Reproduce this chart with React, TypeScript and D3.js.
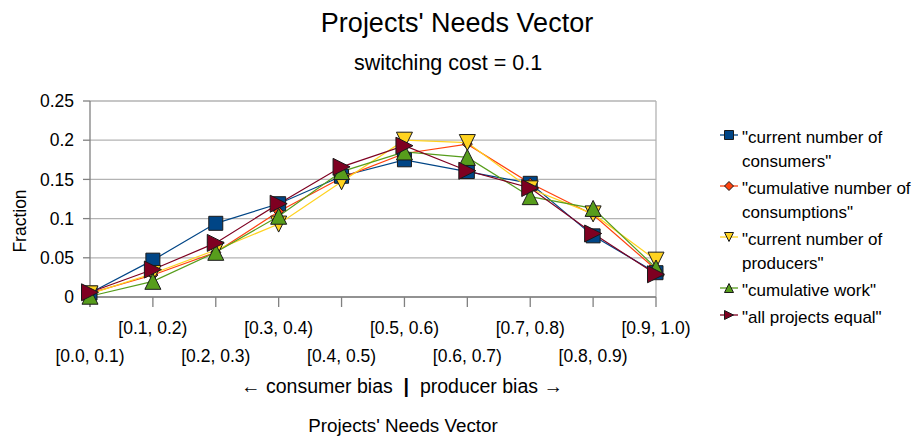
import React from 'react';
import * as d3 from 'd3';

// Bins of the projects' needs vector
const categories = [
  '[0.0, 0.1)', '[0.1, 0.2)', '[0.2, 0.3)', '[0.3, 0.4)', '[0.4, 0.5)',
  '[0.5, 0.6)', '[0.6, 0.7)', '[0.7, 0.8)', '[0.8, 0.9)', '[0.9, 1.0)',
];

// Fraction of projects per bin for each weighting scheme
const currentConsumers = [0.005, 0.047, 0.094, 0.119, 0.154, 0.175, 0.160, 0.145, 0.078, 0.031];
const cumulativeConsumptions = [0.005, 0.028, 0.057, 0.109, 0.152, 0.183, 0.195, 0.145, 0.105, 0.035];
const currentProducers = [0.004, 0.030, 0.060, 0.093, 0.147, 0.200, 0.197, 0.138, 0.106, 0.047];
const cumulativeWork = [0.001, 0.020, 0.057, 0.103, 0.160, 0.185, 0.178, 0.128, 0.113, 0.037];
const allProjectsEqual = [0.006, 0.035, 0.069, 0.119, 0.166, 0.193, 0.161, 0.139, 0.081, 0.029];

const seriesLabels = [
  ['"current number of', 'consumers"'],
  ['"cumulative number of', 'consumptions"'],
  ['"current number of', 'producers"'],
  ['"cumulative work"'],
  ['"all projects equal"'],
];
const seriesValues = [currentConsumers, cumulativeConsumptions, currentProducers, cumulativeWork, allProjectsEqual];
const seriesColors = ['#004586', '#ff420e', '#ffd320', '#579d1c', '#7e0021'];
const seriesShapes = ['square', 'diamond', 'down', 'up', 'right'];

const yTicks = [0, 0.05, 0.1, 0.15, 0.2, 0.25];

const FONT = '"Liberation Sans", Arial, sans-serif';

function markerPath(shape: string, s: number): string {
  const h = s / 2;
  switch (shape) {
    case 'square':
      return `M${-h},${-h}H${h}V${h}H${-h}Z`;
    case 'diamond':
      return `M0,${-h}L${h},0L0,${h}L${-h},0Z`;
    case 'up':
      return `M0,${-h}L${h},${h}L${-h},${h}Z`;
    case 'down':
      return `M0,${h}L${h},${-h}L${-h},${-h}Z`;
    case 'right':
    default:
      return `M${h},0L${-h},${h}L${-h},${-h}Z`;
  }
}

const markerSizes: Record<string, number> = { square: 14, diamond: 10, up: 16, down: 16, right: 17 };

export default function App() {
  const width = 914;
  const height = 441;
  const left = 90, right = 656, top = 101, bottom = 297;

  const x = d3.scalePoint<string>().domain(categories).range([left, right]).padding(0);
  const y = d3.scaleLinear().domain([0, 0.25]).range([bottom, top]);
  const line = d3.line<number>()
    .x((_, i) => x(categories[i]) as number)
    .y((d) => y(d));

  const fmt = (v: number) => (v === 0 ? '0' : String(+v.toFixed(2)));

  const legendX = 720;
  const legendRows: { series: number; lines: string[]; y: number }[] = [];
  let ly = 137;
  seriesLabels.forEach((lines, i) => {
    legendRows.push({ series: i, lines, y: ly });
    ly += lines.length * 24 + 3;
  });

  return (
    <svg width={width} height={height} style={{ position: 'absolute', left: 0, top: 0, background: '#fff' }} fontFamily={FONT}>
      <rect x={0} y={0} width={width} height={height} fill="#fff" />
      <text x={457} y={32} textAnchor="middle" fontSize={27}>Projects' Needs Vector</text>
      <text x={448} y={70} textAnchor="middle" fontSize={21.5}>switching cost = 0.1</text>

      {/* grid */}
      {yTicks.map((t) => (
        <line key={`g${t}`} x1={left} x2={right} y1={y(t)} y2={y(t)} stroke="#b3b3b3" strokeWidth={1.3} />
      ))}
      <line x1={right} x2={right} y1={top} y2={bottom} stroke="#b3b3b3" strokeWidth={1.3} />

      {/* y axis */}
      <line x1={left} x2={left} y1={top} y2={bottom + 10} stroke="#808080" strokeWidth={1.3} />
      {yTicks.map((t) => (
        <g key={`y${t}`}>
          <line x1={left - 7} x2={left} y1={y(t)} y2={y(t)} stroke="#808080" strokeWidth={1.3} />
          <text x={74} y={y(t)} dy="0.35em" textAnchor="end" fontSize={17.5}>{fmt(t)}</text>
        </g>
      ))}
      <text transform={`translate(26,221) rotate(-90)`} textAnchor="middle" fontSize={17.5}>Fraction</text>

      {/* x axis */}
      <line x1={left} x2={right} y1={bottom} y2={bottom} stroke="#808080" strokeWidth={1.3} />
      {categories.map((c, i) => (
        <g key={c}>
          <line x1={x(c)} x2={x(c)} y1={bottom} y2={bottom + 10} stroke="#808080" strokeWidth={1.3} />
          <text x={x(c)} y={i % 2 === 1 ? 334 : 362} textAnchor="middle" fontSize={17.5}>{c}</text>
        </g>
      ))}
      <text x={402} y={393} textAnchor="middle" fontSize={19.5} style={{ whiteSpace: 'pre' }}>
        {'← consumer bias  '}<tspan fontWeight="bold">|</tspan>{'  producer bias →'}
      </text>
      <text x={403} y={432} textAnchor="middle" fontSize={18.8}>Projects' Needs Vector</text>

      {/* series lines */}
      {seriesValues.map((vals, s) => (
        <path key={`l${s}`} d={line(vals) as string} fill="none" stroke={seriesColors[s]} strokeWidth={1.2} />
      ))}
      {/* markers */}
      {seriesValues.map((vals, s) => (
        <g key={`m${s}`}>
          {vals.map((v, i) => (
            <path key={i}
              d={markerPath(seriesShapes[s], markerSizes[seriesShapes[s]])}
              transform={`translate(${x(categories[i])},${y(v)})`}
              fill={seriesColors[s]} stroke="#1a1a1a" strokeWidth={1} />
          ))}
        </g>
      ))}

      {/* legend */}
      {legendRows.map((r) => (
        <g key={`lg${r.series}`}>
          <line x1={legendX} x2={legendX + 18} y1={r.y - 2} y2={r.y - 2} stroke={seriesColors[r.series]} strokeWidth={1.3} />
          <path d={markerPath(seriesShapes[r.series], 9)}
            transform={`translate(${legendX + 9},${r.y - 2})`}
            fill={seriesColors[r.series]} stroke="#1a1a1a" strokeWidth={1} />
          {r.lines.map((t, k) => (
            <text key={k} x={742} y={r.y + k * 24} dy="0.35em" fontSize={17}>{t}</text>
          ))}
        </g>
      ))}
    </svg>
  );
}
